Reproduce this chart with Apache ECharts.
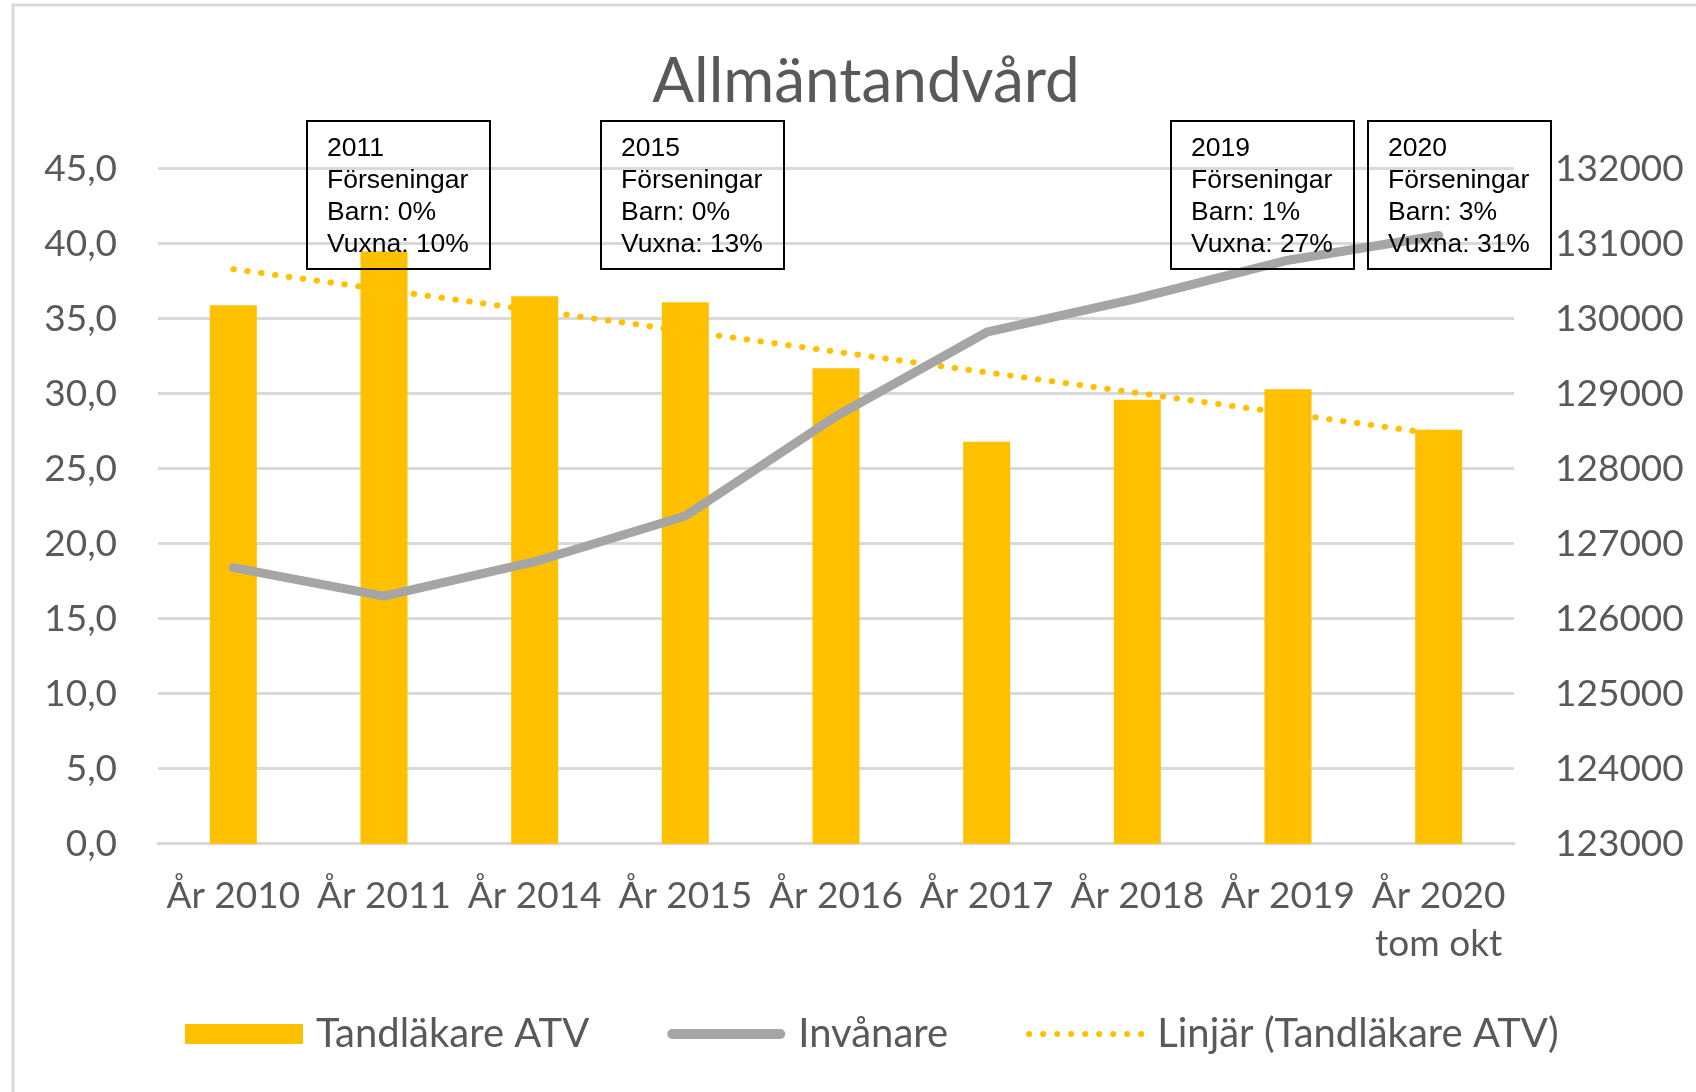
<!DOCTYPE html>
<html>
<head>
<meta charset="utf-8">
<script src="https://cdn.jsdelivr.net/npm/echarts@6/dist/echarts.min.js"></script>
<style>
html,body{margin:0;padding:0;background:#fff;}
#chart{width:1696px;height:1092px;}
</style>
</head>
<body>
<div id="chart"></div>
<script>
// ---- data ----
const categories = ['År 2010', 'År 2011', 'År 2014', 'År 2015', 'År 2016', 'År 2017', 'År 2018', 'År 2019', 'År 2020\ntom okt'];
const tandlakareATV = [35.9, 39.5, 36.5, 36.1, 31.7, 26.8, 29.6, 30.3, 27.6];
const invanare = [126680, 126300, 126760, 127370, 128700, 129820, 130270, 130780, 131110];
const trendLinjar = [38.3, null, null, null, null, null, null, null, 27.3];
const seriesNames = ['Tandläkare ATV', 'Invånare', 'Linjär (Tandläkare ATV)'];
const chartTitle = 'Allmäntandvård';
const annotationTexts = [
  '2011\nFörseningar\nBarn: 0%\nVuxna: 10%',
  '2015\nFörseningar\nBarn: 0%\nVuxna: 13%',
  '2019\nFörseningar\nBarn: 1%\nVuxna: 27%',
  '2020\nFörseningar\nBarn: 3%\nVuxna: 31%'
];
const leftAxis = {min: 0, max: 45, interval: 5};
const rightAxis = {min: 123000, max: 132000, interval: 1000};

// ---- layout ----
const annotationBoxX = [307, 601, 1171, 1368];
const FONT = 'Lato';
const GREY = '#595959';

// legend icon shapes
const thickLineIcon = 'path://M5,0 L113,0 A5,5 0 0 1 113,10 L5,10 A5,5 0 0 1 5,0 Z';
let dotsIcon = 'path://';
for (let k = 0; k < 9; k++) {
  const cx = 3 + k * 14;
  dotsIcon += `M${cx - 3},3 a3,3 0 1,0 6,0 a3,3 0 1,0 -6,0 Z `;
}

const chart = echarts.init(document.getElementById('chart'), null, {renderer: 'canvas'});

const graphics = [{
  type: 'rect', shape: {x: 13, y: 5, width: 1720, height: 1120},
  style: {fill: 'none', stroke: '#D9D9D9', lineWidth: 3}, silent: true, z: 0
}];
annotationTexts.forEach((t, i) => {
  graphics.push({
    type: 'rect', shape: {x: annotationBoxX[i], y: 121, width: 183, height: 148},
    style: {fill: 'none', stroke: '#000', lineWidth: 2}, z: 100
  });
  graphics.push({
    type: 'text', x: annotationBoxX[i] + 20, y: 133,
    style: {text: t, font: '26.5px "Liberation Sans", Arial, sans-serif', fill: '#000', lineHeight: 32},
    z: 101
  });
});

chart.setOption({
  animation: false,
  backgroundColor: '#fff',
  title: {
    text: chartTitle, left: 861, textAlign: 'center', top: 46,
    textStyle: {fontFamily: FONT, fontSize: 62, fontWeight: 'normal', color: GREY}
  },
  grid: {left: 158, right: 182, top: 168.7, bottom: 248.3, containLabel: false},
  legend: {
    left: 180, top: 1008, itemWidth: 118, itemHeight: 20, itemGap: 78,
    textStyle: {fontFamily: FONT, fontSize: 40, color: GREY, lineHeight: 42, padding: [0, 0, 0, 8]},
    data: [
      {name: seriesNames[0], icon: 'rect'},
      {name: seriesNames[1], icon: thickLineIcon, itemStyle: {color: '#A5A5A5', borderWidth: 0}},
      {name: seriesNames[2], icon: dotsIcon, itemStyle: {color: '#FFC000', borderWidth: 0}}
    ]
  },
  xAxis: {
    type: 'category', data: categories,
    axisLine: {show: true, lineStyle: {color: '#D9D9D9', width: 3}},
    axisTick: {show: false},
    axisLabel: {fontFamily: FONT, fontSize: 37, color: GREY, lineHeight: 48, margin: 28, interval: 0}
  },
  yAxis: [{
    type: 'value', min: leftAxis.min, max: leftAxis.max, interval: leftAxis.interval,
    axisLine: {show: false}, axisTick: {show: false},
    splitLine: {lineStyle: {color: '#D9D9D9', width: 3}},
    axisLabel: {fontFamily: FONT, fontSize: 37, color: GREY, margin: 41,
      formatter: v => v.toFixed(1).replace('.', ',')}
  }, {
    type: 'value', min: rightAxis.min, max: rightAxis.max, interval: rightAxis.interval,
    axisLine: {show: false}, axisTick: {show: false}, splitLine: {show: false},
    axisLabel: {fontFamily: FONT, fontSize: 37, color: GREY, margin: 41,
      formatter: v => String(v)}
  }],
  series: [{
    name: seriesNames[2], type: 'line', yAxisIndex: 0, data: trendLinjar, connectNulls: true,
    symbol: 'none', z: 1,
    lineStyle: {color: '#FFC000', width: 6, type: [0.5, 13.5], cap: 'round'},
    itemStyle: {color: '#FFC000'}
  }, {
    name: seriesNames[0], type: 'bar', yAxisIndex: 0, data: tandlakareATV, barWidth: 47, z: 2,
    itemStyle: {color: '#FFC000'}
  }, {
    name: seriesNames[1], type: 'line', yAxisIndex: 1, data: invanare, symbol: 'none', z: 3,
    lineStyle: {color: '#A5A5A5', width: 9, cap: 'round', join: 'round'},
    itemStyle: {color: '#A5A5A5'}
  }],
  graphic: graphics
});
</script>
</body>
</html>
